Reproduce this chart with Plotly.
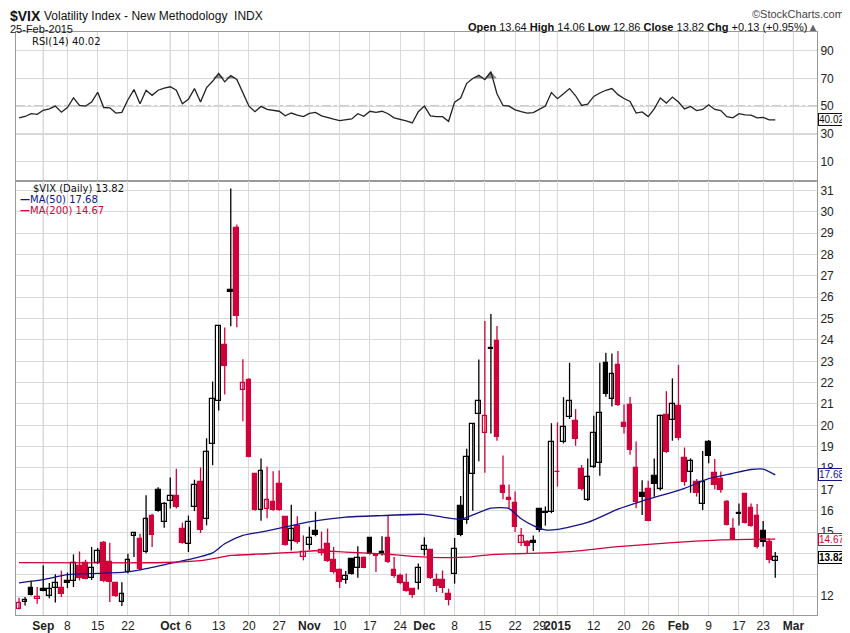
import numpy as np
import pandas as pd
import plotly.graph_objects as go
from plotly.subplots import make_subplots

# trading calendar (NYSE holidays inside the window)
holidays = ["2014-09-01", "2014-11-27", "2014-12-25", "2015-01-01", "2015-01-19", "2015-02-16"]
first_day = "2014-08-26"
axis_last_day = "2015-03-06"

# daily OHLC of $VIX, 26-Aug-2014 .. 25-Feb-2015
open_px = [
    11.37, 11.72, 12.39, 11.87, 12.34, 12.02, 12.37, 12.39, 12.69, 12.72,
    13.39, 13.56, 12.86, 13.56, 14.50, 13.60, 12.59, 11.73, 13.11, 14.83,
    14.66, 14.05, 15.77, 16.97, 15.48, 16.47, 16.70, 15.16, 14.45, 16.19,
    17.36, 15.63, 19.13, 21.13, 23.78, 26.36, 29.25, 21.66, 22.14, 17.72,
    16.05, 16.08, 16.41, 17.25, 15.72, 14.60, 15.30, 13.85, 14.41, 15.06,
    14.02, 14.45, 13.70, 13.20, 12.73, 13.75, 13.33, 13.80, 14.72, 13.88,
    14.05, 14.72, 13.20, 12.92, 12.61, 12.31, 12.61, 14.17, 14.14, 12.77,
    12.73, 12.11, 13.05, 16.23, 15.58, 17.70, 20.51, 19.62, 23.60, 23.95,
    17.15, 16.58, 16.35, 14.50, 14.55, 14.59, 16.06, 15.90, 15.93, 17.82,
    19.20, 20.37, 20.20, 17.93, 16.50, 18.03, 18.22, 22.90, 21.25, 22.82,
    20.09, 20.93, 17.98, 16.81, 17.00, 17.62, 17.00, 20.46, 20.23, 20.90,
    18.46, 17.83, 17.36, 16.30, 19.20, 17.75, 17.47, 16.39, 15.13, 15.86,
    16.77, 16.11, 15.75, 15.06, 14.53, 13.64,
]
high_px = [
    11.92, 11.95, 12.72, 12.42, 13.44, 12.61, 13.02, 13.19, 13.10, 13.95,
    14.09, 13.70, 14.30, 14.25, 14.58, 14.50, 12.62, 12.64, 13.98, 14.97,
    14.92, 16.72, 15.86, 17.10, 16.40, 17.55, 17.97, 15.44, 15.77, 17.45,
    18.03, 19.39, 22.05, 24.70, 24.58, 31.10, 29.41, 23.10, 22.20, 17.75,
    18.44, 18.07, 17.85, 17.88, 15.75, 16.28, 15.74, 14.84, 15.25, 15.95,
    15.02, 15.16, 14.30, 13.28, 13.17, 13.78, 14.33, 13.85, 14.77, 13.96,
    14.80, 15.78, 13.83, 13.05, 13.05, 12.35, 13.52, 14.75, 14.20, 13.05,
    13.20, 12.34, 14.72, 16.69, 18.90, 20.10, 23.09, 24.89, 25.22, 24.65,
    18.59, 17.23, 16.90, 15.19, 14.61, 14.84, 16.10, 16.20, 20.10, 20.14,
    21.32, 22.93, 20.76, 18.14, 18.45, 20.45, 22.93, 23.40, 23.37, 23.48,
    20.98, 21.33, 19.24, 17.43, 17.40, 18.45, 20.50, 21.60, 22.20, 22.83,
    18.96, 18.45, 17.48, 18.80, 19.31, 18.42, 17.83, 16.50, 15.64, 16.34,
    16.80, 16.34, 16.31, 15.52, 14.70, 14.06,
]
low_px = [
    11.37, 11.55, 12.02, 11.64, 12.22, 11.90, 11.69, 11.95, 12.37, 12.42,
    12.73, 12.78, 12.75, 13.50, 12.65, 11.72, 11.95, 11.53, 13.05, 13.83,
    13.20, 14.00, 14.30, 15.95, 15.20, 16.10, 16.10, 14.45, 14.06, 15.98,
    14.95, 15.31, 18.13, 20.70, 21.45, 24.64, 24.60, 20.19, 18.50, 16.00,
    15.53, 15.64, 16.00, 16.00, 14.35, 14.13, 14.45, 13.67, 14.17, 14.80,
    13.90, 13.60, 13.05, 12.38, 12.58, 13.00, 12.86, 13.30, 13.95, 13.12,
    13.90, 13.55, 12.85, 12.55, 12.20, 11.92, 12.31, 13.90, 12.80, 12.19,
    12.14, 11.56, 12.58, 14.80, 15.39, 16.00, 18.32, 17.78, 19.62, 19.28,
    16.53, 16.10, 15.00, 14.34, 13.98, 14.11, 15.00, 15.30, 15.88, 17.13,
    19.15, 20.30, 19.04, 16.95, 16.45, 18.00, 17.64, 21.34, 20.88, 20.90,
    19.62, 18.62, 16.11, 15.80, 15.50, 16.65, 16.95, 18.70, 19.28, 19.30,
    17.17, 16.84, 16.66, 16.03, 18.22, 17.00, 16.84, 15.30, 14.63, 15.30,
    15.40, 15.25, 14.23, 14.31, 13.53, 12.86,
]
close_px = [
    11.66, 11.80, 12.06, 11.97, 12.25, 12.34, 12.61, 12.09, 12.61, 13.53,
    12.86, 12.81, 13.33, 14.12, 12.70, 12.64, 11.98, 12.11, 13.70, 14.94,
    13.25, 15.63, 14.86, 16.00, 16.31, 16.69, 16.17, 14.50, 15.48, 17.20,
    15.09, 18.75, 21.24, 24.66, 22.77, 26.25, 25.14, 22.00, 18.53, 16.05,
    17.85, 16.49, 16.05, 16.03, 14.39, 15.13, 14.52, 14.05, 14.72, 14.86,
    14.17, 13.64, 13.12, 12.66, 12.92, 13.05, 13.80, 13.33, 13.98, 13.86,
    13.97, 13.59, 12.92, 12.61, 12.23, 12.03, 13.33, 14.33, 12.86, 12.48,
    12.38, 11.80, 14.22, 14.84, 18.50, 20.08, 21.12, 20.42, 23.57, 19.47,
    16.81, 16.52, 15.25, 14.81, 14.34, 14.50, 15.08, 15.95, 19.20, 17.79,
    19.94, 21.12, 19.34, 17.01, 17.56, 19.62, 20.56, 21.46, 22.39, 20.96,
    19.90, 18.86, 16.42, 16.66, 15.53, 17.23, 20.45, 18.75, 20.98, 19.42,
    17.36, 18.34, 16.84, 17.33, 18.58, 17.22, 16.97, 15.33, 14.66, 15.83,
    15.44, 15.30, 14.31, 14.55, 13.69, 13.82,
]
prior_close = 11.70  # close of the day before the window

rsi14 = [
    41.5, 42.5, 44.5, 44.0, 47.0, 48.0, 50.0, 45.6, 49.0, 56.0,
    50.5, 50.0, 53.0, 60.0, 49.0, 48.8, 45.0, 45.5, 54.6, 62.0,
    51.7, 61.5, 57.8, 61.5, 63.0, 64.0, 61.5, 51.7, 55.0, 62.7,
    53.0, 63.4, 68.0, 73.7, 67.6, 72.2, 69.3, 60.0, 50.0, 46.0,
    49.8, 47.6, 47.0, 46.3, 43.0, 45.0, 43.5, 42.4, 44.8, 45.5,
    43.0, 41.5, 40.5, 39.5, 40.2, 40.7, 44.5, 42.6, 46.3, 45.5,
    46.3, 44.5, 41.5, 40.5, 39.3, 37.8, 46.0, 50.0, 43.0, 42.4,
    42.4, 39.0, 52.9, 55.9, 66.5, 70.0, 72.4, 69.3, 74.9, 59.0,
    50.5, 50.0, 47.3, 46.0, 45.0, 45.3, 47.8, 50.0, 59.8, 55.4,
    59.0, 62.7, 57.5, 50.5, 51.5, 57.0, 59.5, 61.5, 62.7, 58.3,
    55.5, 53.4, 45.0, 45.8, 42.4, 48.0, 55.9, 52.2, 56.6, 53.0,
    48.0, 49.8, 46.8, 47.6, 51.0, 47.6, 46.8, 42.4, 41.5, 44.5,
    43.7, 43.5, 41.5, 41.9, 40.0, 40.02,
]

# moving averages, sampled off the chart
ma50_dates = [
    "2014-08-26", "2014-09-02", "2014-09-08", "2014-09-15", "2014-09-22", "2014-09-25",
    "2014-10-01", "2014-10-06", "2014-10-10", "2014-10-14", "2014-10-17", "2014-10-23",
    "2014-10-30", "2014-11-04", "2014-11-11", "2014-11-19", "2014-12-01", "2014-12-04",
    "2014-12-09", "2014-12-11", "2014-12-16", "2014-12-19", "2014-12-23", "2014-12-26",
    "2014-12-30", "2015-01-02", "2015-01-09", "2015-01-16", "2015-01-23", "2015-01-28",
    "2015-02-03", "2015-02-09", "2015-02-13", "2015-02-19", "2015-02-23", "2015-02-25",
]
ma50_vals = [
    12.62, 12.77, 13.00, 13.06, 13.13, 13.28,
    13.53, 13.70, 14.02, 14.45, 14.84, 15.05,
    15.36, 15.52, 15.70, 15.77, 15.83, 15.70,
    15.60, 15.80, 16.12, 16.10, 15.62, 15.30,
    15.10, 15.12, 15.45, 16.07, 16.45, 16.70,
    17.05, 17.50, 17.75, 17.93, 17.95, 17.68,
]
ma200_dates = [
    "2014-08-26", "2014-09-30", "2014-10-08", "2014-10-13", "2014-10-15", "2014-10-23",
    "2014-10-30", "2014-11-04", "2014-11-11", "2014-11-19", "2014-11-26", "2014-12-05",
    "2014-12-10", "2014-12-16", "2014-12-22", "2014-12-30", "2015-01-06", "2015-01-16",
    "2015-01-30", "2015-02-11", "2015-02-25",
]
ma200_vals = [
    13.56, 13.57, 13.66, 13.80, 13.90, 13.98,
    14.06, 14.12, 14.06, 13.98, 13.86, 13.80,
    13.82, 13.94, 13.98, 14.02, 14.08, 14.31,
    14.50, 14.63, 14.67,
]

tick_dates = [
    "2014-09-02", "2014-09-08", "2014-09-15", "2014-09-22", "2014-10-01", "2014-10-06",
    "2014-10-13", "2014-10-20", "2014-10-27", "2014-11-03", "2014-11-10", "2014-11-17",
    "2014-11-24", "2014-12-01", "2014-12-08", "2014-12-15", "2014-12-22", "2014-12-29",
    "2015-01-02", "2015-01-12", "2015-01-20", "2015-01-26", "2015-02-02", "2015-02-09",
    "2015-02-17", "2015-02-23", "2015-03-02",
]
tick_text = [
    "Sep", "8", "15", "22", "Oct", "6", "13", "20", "27", "Nov", "10", "17", "24",
    "Dec", "8", "15", "22", "29", "2015", "12", "20", "26", "Feb", "9", "17", "23", "Mar",
]
month_labels = {"Sep", "Oct", "Nov", "Dec", "2015", "Feb", "Mar"}
price_ticks = list(range(12, 32))
hidden_price_labels = {13, 14}  # covered by the value tags

RED = "#d2003a"
NAVY = "#13138a"
GRID = "#d9d9d9"
MONTH_GRID = "#b9b9b9"
FRAME = "#9a9a9a"
NARROW = "Liberation Sans Narrow, Liberation Sans, Arial, sans-serif"
VERD = "DejaVu Sans, Verdana, sans-serif"

cal = pd.bdate_range(first_day, axis_last_day, freq="C", holidays=holidays)
pos = {d.strftime("%Y-%m-%d"): k for k, d in enumerate(cal)}
n = len(close_px)
xs = np.arange(n)

o = np.array(open_px)
h = np.array(high_px)
l = np.array(low_px)
c = np.array(close_px)
prev = np.concatenate([[prior_close], c[:-1]])
is_red = c < prev
hollow = c > o
edge = np.where(is_red, RED, "#000000")
fill = np.where(hollow, "#ffffff", edge)
body_lo = np.minimum(o, c)
body_h = np.maximum(np.abs(c - o), 0.04)

fig = make_subplots(rows=2, cols=1, shared_xaxes=True, vertical_spacing=0,
                    row_heights=[0.2556, 0.7444])

# ---- RSI panel
fig.add_trace(go.Scatter(x=xs, y=[70] * n, mode="lines", line=dict(width=0),
                         hoverinfo="skip", showlegend=False), row=1, col=1)
fig.add_trace(go.Scatter(x=xs, y=np.maximum(rsi14, 70), mode="lines", line=dict(width=0),
                         fill="tonexty", fillcolor="#8a8a8a", hoverinfo="skip",
                         showlegend=False), row=1, col=1)
fig.add_trace(go.Scatter(x=xs, y=rsi14, mode="lines", line=dict(color="#222", width=1.3),
                         showlegend=False), row=1, col=1)

# ---- price panel: wicks
for is_r, col in [(False, "#000000"), (True, RED)]:
    wx, wy = [], []
    for i in range(n):
        if is_red[i] == is_r:
            wx += [i, i, None]
            wy += [l[i], h[i], None]
    fig.add_trace(go.Scatter(x=wx, y=wy, mode="lines", line=dict(color=col, width=1.3),
                             hoverinfo="skip", showlegend=False), row=2, col=1)

# bodies
fig.add_trace(go.Bar(x=xs, y=body_h, base=body_lo, width=0.78,
                     marker=dict(color=list(fill), line=dict(color=list(edge), width=1.2)),
                     showlegend=False), row=2, col=1)

fig.add_trace(go.Scatter(x=[pos[d] for d in ma50_dates], y=ma50_vals, mode="lines",
                         line=dict(color=NAVY, width=1.3, shape="spline", smoothing=0.6),
                         showlegend=False), row=2, col=1)
fig.add_trace(go.Scatter(x=[pos[d] for d in ma200_dates], y=ma200_vals, mode="lines",
                         line=dict(color=RED, width=1.3, shape="spline", smoothing=0.6),
                         showlegend=False), row=2, col=1)

# ---- axes
tickvals = [pos[d] for d in tick_dates]
ticktext = [f"<b>{t}</b>" if t in month_labels else t for t in tick_text]
x_common = dict(range=[-0.5, 131.9], tickmode="array", tickvals=tickvals, ticktext=ticktext,
                showgrid=True, gridcolor=GRID, gridwidth=1, zeroline=False, ticks="",
                showline=True, linecolor=FRAME, mirror=True, automargin=False, tickangle=0)
fig.update_xaxes(**x_common)
fig.update_xaxes(showticklabels=False, row=1, col=1)
fig.update_xaxes(tickfont=dict(family=NARROW, size=12, color="#222"), row=2, col=1)

y_common = dict(side="right", showgrid=True, gridcolor=GRID, zeroline=False, ticks="",
                tickfont=dict(family=NARROW, size=12, color="#222"), automargin=False,
                showline=True, linecolor=FRAME, mirror=True)
fig.update_yaxes(range=[-4.25, 103.7], tickvals=[10, 30, 50, 70, 90], row=1, col=1, **y_common)
fig.update_yaxes(range=[11.11, 31.45], tickvals=price_ticks,
                 ticktext=["" if v in hidden_price_labels else str(v) for v in price_ticks],
                 row=2, col=1, **y_common)

shapes = []
for d, t in zip(tick_dates, tick_text):
    if t in month_labels:
        shapes.append(dict(type="line", xref="x", yref="paper", x0=pos[d], x1=pos[d],
                           y0=0, y1=1, line=dict(color=MONTH_GRID, width=1), layer="below"))
for lvl, dash, colr in [(70, "solid", "#555"), (30, "solid", "#555"), (50, "dashdot", "#777")]:
    shapes.append(dict(type="line", xref="paper", yref="y", x0=0, x1=1, y0=lvl, y1=lvl,
                       line=dict(color=colr, width=1, dash=dash), layer="below"))

# the page body has an 8px default margin, so the figure is offset by that much
OFF = 8
W, H = 850 - OFF, 633 - OFF
ML, MT, MR, MB = 16 - OFF, 32 - OFF, 33, 18

# header / legend texts, positioned in page pixels
annotations = [
    dict(text="<b>$VIX</b>", x=3, y=16, font=dict(family=NARROW, size=14, color="#111")),
    dict(text="Volatility Index - New Methodology  INDX", x=42, y=16,
         font=dict(family=NARROW, size=12, color="#111")),
    dict(text="25-Feb-2015", x=3, y=29, font=dict(family=NARROW, size=11, color="#111")),
    dict(text="©StockCharts.com", x=846, y=14, xanchor="right",
         font=dict(family=NARROW, size=11, color="#444")),
    dict(text="<b>Open</b> 13.64 <b>High</b> 14.06 <b>Low</b> 12.86 <b>Close</b> 13.82 "
              "<b>Chg</b> +0.13 (+0.95%)<span style='color:#666'>▲</span>",
         x=820, y=27, xanchor="right", font=dict(family=NARROW, size=11, color="#111")),
    dict(text="RSI(14) 40.02", x=30, y=41, font=dict(family=VERD, size=10, color="#111")),
    dict(text="$VIX (Daily) 13.82", x=31, y=188, font=dict(family=VERD, size=10, color="#111")),
    dict(text="<b>—</b>MA(50) 17.68", x=18, y=199, font=dict(family=VERD, size=10, color=NAVY)),
    dict(text="<b>—</b>MA(200) 14.67", x=18, y=210, font=dict(family=VERD, size=10, color=RED)),
]
for a in annotations:
    px_x = max(a["x"] - OFF, 0)
    px_y = a["y"] - OFF
    a.update(xref="paper", yref="paper", showarrow=False, yanchor="middle",
             x=(px_x - ML) / (W - ML - MR), y=(H - MB - px_y) / (H - MT - MB))
    a.setdefault("xanchor", "left")

# value tags on the right edge
tags = [
    ("40.02", rsi14[-1], "y", "#111", "#111", False),
    ("17.68", ma50_vals[-1], "y2", NAVY, NAVY, False),
    ("14.67", ma200_vals[-1], "y2", RED, RED, False),
    ("13.82", close_px[-1], "y2", "#000", "#000", True),
]
for txt, val, yr, fc, bc, bold in tags:
    annotations.append(dict(text=f"<b>{txt}</b>" if bold else txt, xref="paper", x=1.0,
                            xanchor="left", xshift=1, yref=yr, y=val, showarrow=False,
                            font=dict(family=NARROW, size=10, color=fc), bgcolor="white",
                            bordercolor=bc, borderwidth=1, borderpad=0))

fig.update_layout(
    width=W, height=H, margin=dict(l=ML, r=MR, t=MT, b=MB, autoexpand=False),
    paper_bgcolor="white", plot_bgcolor="rgba(0,0,0,0)", showlegend=False,
    shapes=shapes, annotations=annotations, bargap=0,
)

fig.write_html("out.html")
